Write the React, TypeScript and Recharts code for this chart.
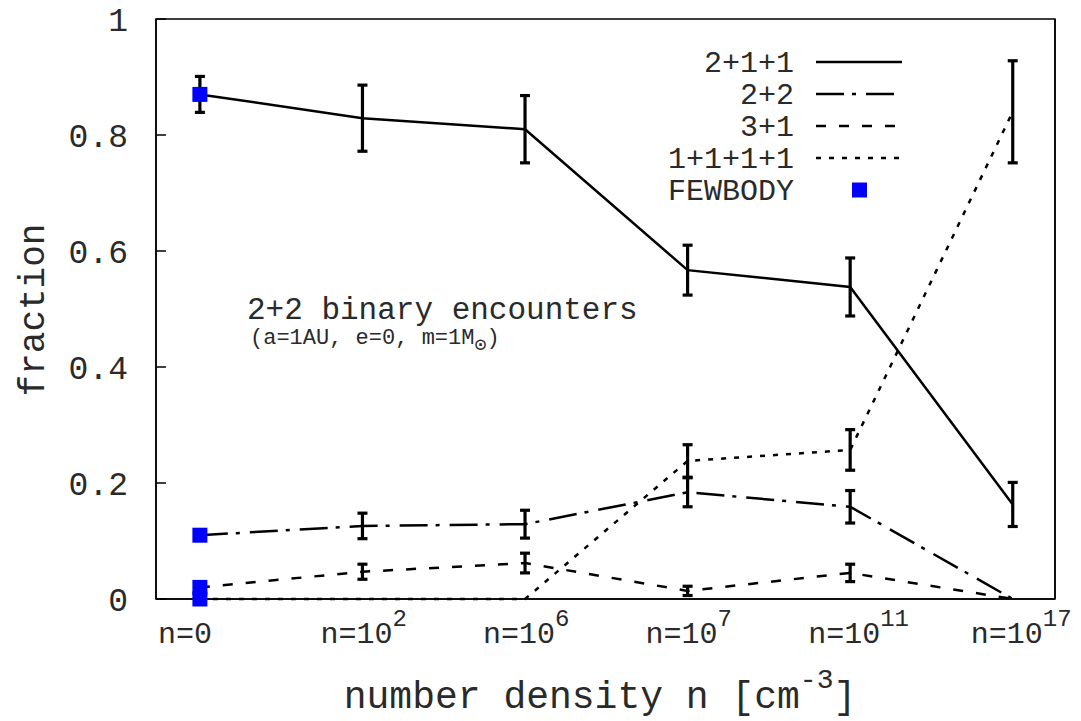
import React from "react";
import { ComposedChart, Line, Scatter, ErrorBar, XAxis, YAxis, ReferenceArea } from "recharts";

// density bins along the x axis (base text + superscript exponent)
const densityBase = ["n=0", "n=10", "n=10", "n=10", "n=10", "n=10"];
const densityExp = ["", "2", "6", "7", "11", "17"];

// outcome fractions with their error bars
const frac211 = [0.87, 0.829, 0.81, 0.567, 0.538, 0.163];
const err211 = [0.031, 0.057, 0.058, 0.043, 0.05, 0.038];
const frac22 = [0.11, 0.126, 0.129, 0.184, 0.159, 0];
const err22 = [0.008, 0.022, 0.024, 0.025, 0.028, 0];
const frac31 = [0.02, 0.047, 0.062, 0.014, 0.045, 0];
const err31 = [0.01, 0.013, 0.017, 0.008, 0.015, 0];
const frac1111 = [0, 0, 0, 0.238, 0.257, 0.84];
const err1111 = [0, 0, 0, 0.028, 0.035, 0.088];

// FEWBODY reference values at n=0
const fewbody = [0.87, 0.11, 0.02, 0];

const yTicks = [0, 0.2, 0.4, 0.6, 0.8, 1];

const FONT = "'Liberation Mono', 'DejaVu Sans Mono', monospace";
const INK = "#2a2a2a";

const rows = densityBase.map((_, i) => ({
  x: i,
  f211: frac211[i],
  e211: err211[i],
  f22: frac22[i],
  e22: err22[i],
  f31: frac31[i],
  e31: err31[i],
  f1111: frac1111[i],
  e1111: err1111[i],
}));

const fewbodyRows = fewbody.map((y) => ({ x: 0, y }));

const series = [
  { key: "f211", err: "e211", name: "2+1+1", dash: undefined as string | undefined },
  { key: "f22", err: "e22", name: "2+2", dash: "28 8 4 10" },
  { key: "f31", err: "e31", name: "3+1", dash: "10 13" },
  { key: "f1111", err: "e1111", name: "1+1+1+1", dash: "5 8" },
];

const XTick = (props: any) => {
  const { x, y, payload } = props;
  const i = payload.value as number;
  return (
    <text x={x - 42} y={y + 36} fontFamily={FONT} fontSize={30} fill={INK} textAnchor="start">
      <tspan>{densityBase[i]}</tspan>
      {densityExp[i] ? (
        <tspan dy={-17} fontSize={24}>
          {densityExp[i]}
        </tspan>
      ) : null}
    </text>
  );
};

const Square = (props: any) => (
  <rect x={props.cx - 7.5} y={props.cy - 7.5} width={15} height={15} fill="#0000ff" />
);

function Overlay() {
  const legendTop = 62;
  const rowGap = 32;
  return (
    <svg
      width={1081}
      height={721}
      style={{ position: "absolute", left: 0, top: 0, pointerEvents: "none" }}
    >
      <text
        transform="translate(44,310) rotate(-90)"
        textAnchor="middle"
        fontFamily={FONT}
        fontSize={36}
        fill={INK}
      >
        fraction
      </text>
      <text x={600} y={708} textAnchor="middle" fontFamily={FONT} fontSize={38} fill={INK}>
        number density n [cm
        <tspan dy={-20} fontSize={28}>
          -3
        </tspan>
        <tspan dy={20}>]</tspan>
      </text>

      <text x={247} y={319} fontFamily={FONT} fontSize={31} fill={INK}>
        2+2 binary encounters
      </text>
      <text x={250} y={344} fontFamily={FONT} fontSize={22} fill={INK}>
        (a=1AU, e=0, m=1M
        <tspan dy={7} fontSize={20}>
          ⊙
        </tspan>
        <tspan dy={-7}>)</tspan>
      </text>

      {series.map((s, i) => {
        const cy = legendTop + i * rowGap;
        return (
          <g key={s.key}>
            <text x={794} y={cy + 10} textAnchor="end" fontFamily={FONT} fontSize={30} fill={INK}>
              {s.name}
            </text>
            <line
              x1={816}
              x2={902}
              y1={cy}
              y2={cy}
              stroke="#000"
              strokeWidth={2.5}
              strokeDasharray={s.dash}
            />
          </g>
        );
      })}
      <text
        x={794}
        y={legendTop + 4 * rowGap + 10}
        textAnchor="end"
        fontFamily={FONT}
        fontSize={30}
        fill={INK}
      >
        FEWBODY
      </text>
      <rect x={852} y={legendTop + 4 * rowGap - 7.5} width={15} height={15} fill="#0000ff" />
    </svg>
  );
}

export default function App() {
  return (
    <div
      style={{
        position: "absolute",
        left: 0,
        top: 0,
        width: 1081,
        height: 721,
        background: "#fff",
      }}
    >
      <ComposedChart
        width={1081}
        height={721}
        data={rows}
        margin={{ top: 19, right: 0, bottom: 0, left: 0 }}
      >
        <XAxis
          dataKey="x"
          type="number"
          domain={[-0.27, 5.26]}
          ticks={[0, 1, 2, 3, 4, 5]}
          allowDataOverflow
          height={122}
          tickLine={false}
          axisLine={{ stroke: "#000", strokeWidth: 1.5 }}
          tick={<XTick />}
        />
        <YAxis
          yAxisId="left"
          type="number"
          domain={[0, 1]}
          ticks={yTicks}
          width={156}
          tickSize={-10}
          tickMargin={38}
          axisLine={{ stroke: "#000", strokeWidth: 1.5 }}
          tickLine={{ stroke: "#000", strokeWidth: 1.5 }}
          tickFormatter={(v: number) => String(v)}
          tick={{ fontFamily: FONT, fontSize: 33, fill: INK }}
        />
        <YAxis
          yAxisId="right"
          orientation="right"
          type="number"
          domain={[0, 1]}
          ticks={yTicks}
          width={26}
          tickSize={-10}
          axisLine={{ stroke: "#000", strokeWidth: 1.5 }}
          tickLine={{ stroke: "#000", strokeWidth: 1.5 }}
          tickFormatter={() => ""}
        />
        <ReferenceArea
          yAxisId="left"
          x1={-0.27}
          x2={5.26}
          y1={0}
          y2={1}
          fill="none"
          stroke="#000"
          strokeWidth={1.5}
          ifOverflow="extendDomain"
        />
        {series.map((s) => (
          <Line
            key={s.key}
            yAxisId="left"
            dataKey={s.key}
            name={s.name}
            stroke="#000"
            strokeWidth={2.5}
            strokeDasharray={s.dash}
            dot={false}
            activeDot={false}
            isAnimationActive={false}
          >
            <ErrorBar
              dataKey={s.err}
              direction="y"
              width={5}
              stroke="#000"
              strokeWidth={3.2}
              isAnimationActive={false}
            />
          </Line>
        ))}
        <Scatter
          yAxisId="left"
          name="FEWBODY"
          data={fewbodyRows}
          dataKey="y"
          shape={<Square />}
          isAnimationActive={false}
        />
      </ComposedChart>
      <Overlay />
    </div>
  );
}
